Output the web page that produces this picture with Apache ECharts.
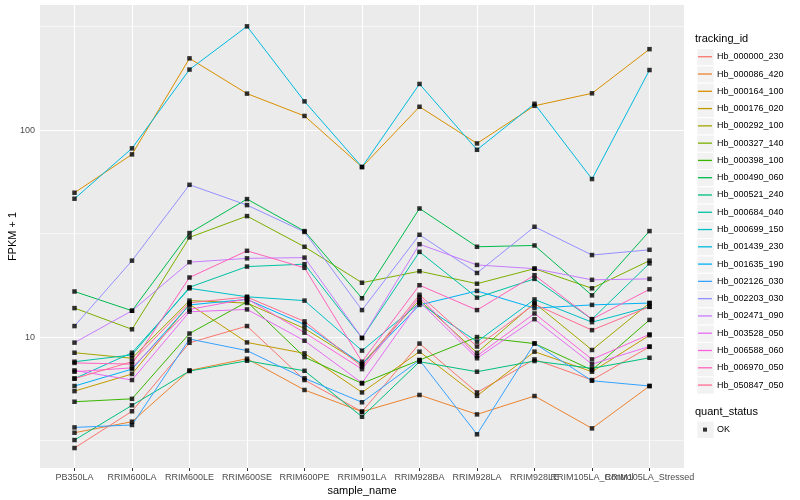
<!DOCTYPE html>
<html><head><meta charset="utf-8">
<script src="https://cdn.jsdelivr.net/npm/echarts@6/dist/echarts.min.js"></script>
<style>html,body{margin:0;padding:0;background:#fff}#c{width:800px;height:500px}</style>
</head><body><div id="c"></div>
<script>
const categories = ['PB350LA','RRIM600LA','RRIM600LE','RRIM600SE','RRIM600PE','RRIM901LA','RRIM928BA','RRIM928LA','RRIM928LE','RRIM105LA_Control','RRIM105LA_Stressed'];
const trackingIds = ['Hb_000000_230','Hb_000086_420','Hb_000164_100','Hb_000176_020','Hb_000292_100','Hb_000327_140','Hb_000398_100','Hb_000490_060','Hb_000521_240','Hb_000684_040','Hb_000699_150','Hb_001439_230','Hb_001635_190','Hb_002126_030','Hb_002203_030','Hb_002471_090','Hb_003528_050','Hb_006588_060','Hb_006970_050','Hb_050847_050'];
const colors = ['#F8766D','#EA8331','#D89000','#C09B00','#A3A500','#7CAE00','#39B600','#00BB4E','#00BF7D','#00C1A3','#00BFC4','#00BAE0','#00B0F6','#35A2FF','#9590FF','#C77CFF','#E76BF3','#FA62DB','#FF62BC','#FF6C91'];

const hb000000_230 = [2.91, 4.38, 9.38, 11.3, 6.2, 4.36, 9.3, 5.4, 7.8, 6.2, 8.97];
const hb000086_420 = [3.45, 3.90, 6.9, 7.86, 5.55, 4.36, 5.25, 4.23, 5.19, 3.62, 5.8];
const hb000164_100 = [49.8, 76.3, 222, 150, 117, 66.3, 129.6, 86.2, 131, 150.5, 246];
const hb000176_020 = [5.48, 6.63, 14.4, 9.42, 8.34, 5.4, 8.5, 5.2, 8.5, 6.8, 10.2];
const hb000292_100 = [8.4, 7.9, 15.0, 14.6, 11.0, 7.4, 15.1, 8.4, 14.6, 8.66, 14.6];
const hb000327_140 = [13.8, 10.9, 30.3, 38.4, 27.3, 18.3, 20.8, 18.1, 21.4, 17.2, 23.4];
const hb000398_100 = [4.87, 5.03, 10.4, 14.8, 8.0, 5.97, 7.74, 10.0, 9.3, 6.93, 12.1];
const hb000490_060 = [16.6, 13.4, 31.8, 46.4, 32.5, 15.4, 41.8, 27.3, 27.7, 15.9, 32.5];
const hb000521_240 = [3.18, 4.68, 6.85, 7.68, 6.87, 4.12, 7.6, 6.8, 7.66, 7.06, 7.94];
const hb000684_040 = [7.6, 8.2, 17.4, 21.9, 22.5, 9.9, 25.8, 15.5, 19.1, 12.2, 22.7];
const hb000699_150 = [6.3, 8.4, 17.2, 15.65, 15.0, 8.6, 14.6, 9.5, 15.2, 11.8, 14.0];
const hb001439_230 = [46.6, 81.6, 196, 317, 137.6, 66.3, 167, 80.3, 134, 58, 195];
const hb001635_190 = [5.8, 7.0, 14.3, 15.2, 11.5, 7.4, 14.3, 16.7, 13.8, 14.3, 14.6];
const hb002126_030 = [3.66, 3.76, 9.78, 8.6, 6.32, 4.84, 7.74, 3.39, 9.32, 6.15, 5.8];
const hb002203_030 = [11.3, 23.4, 54.4, 43.4, 32.2, 13.5, 31.2, 20.4, 34.1, 24.9, 26.4];
const hb002471_090 = [9.4, 13.4, 23.0, 24.0, 24.2, 9.9, 28.1, 22.3, 21.4, 18.9, 19.1];
const hb003528_050 = [6.9, 6.2, 13.25, 13.6, 9.6, 6.0, 14.8, 7.9, 12.2, 7.4, 9.0];
const hb006588_060 = [6.8, 7.1, 13.6, 15.3, 10.5, 7.0, 15.6, 8.1, 13.0, 7.8, 10.3];
const hb006970_050 = [7.5, 7.4, 19.4, 26.1, 21.6, 7.6, 17.8, 13.5, 19.9, 12.2, 17.0];
const hb050847_050 = [6.3, 7.6, 14.65, 15.6, 11.9, 7.2, 16.0, 9.0, 14.4, 10.8, 14.0];

const yTickValues = [10, 100];
const yMinorValues = [3.1623, 31.623, 316.23];

const seriesValues = [hb000000_230, hb000086_420, hb000164_100, hb000176_020, hb000292_100, hb000327_140, hb000398_100, hb000490_060, hb000521_240, hb000684_040, hb000699_150, hb001439_230, hb001635_190, hb002126_030, hb002203_030, hb002471_090, hb003528_050, hb006588_060, hb006970_050, hb050847_050];

const catIdx = categories.map((c, i) => i);
const FONT = 'Liberation Sans, Arial, Helvetica, sans-serif';

const gridLines = [];
catIdx.forEach(i => gridLines.push({ xAxis: i, lineStyle: { color: '#ffffff', width: 1.1, type: 'solid' } }));
yTickValues.forEach(v => gridLines.push({ yAxis: v, lineStyle: { color: '#ffffff', width: 1.1, type: 'solid' } }));
yMinorValues.forEach(v => gridLines.push({ yAxis: v, lineStyle: { color: '#ffffff', width: 0.55, type: 'solid' } }));

const series = [{
  type: 'line', name: '_grid', data: [], z: 1, silent: true, animation: false,
  markLine: { z: 1, silent: true, animation: false, symbol: ['none', 'none'], label: { show: false }, emphasis: { disabled: true }, data: gridLines }
}];
trackingIds.forEach((id, k) => {
  series.push({
    type: 'line', name: id, z: 10, animation: false, silent: true,
    data: seriesValues[k].map((v, j) => [j, v]),
    showSymbol: false, symbol: 'none',
    lineStyle: { width: 1, color: colors[k] },
    itemStyle: { color: colors[k] },
    emphasis: { disabled: true }
  });
});
const okPoints = [];
seriesValues.forEach(arr => arr.forEach((v, j) => okPoints.push([j, v])));
series.push({
  type: 'scatter', name: 'OK', z: 12, animation: false, silent: true,
  data: okPoints, symbol: 'rect', symbolSize: 4.5, itemStyle: { color: '#000000' }
});

const keyRects = [];
const keyTop = 48.1, keySize = 17.28;
trackingIds.forEach((id, k) => keyRects.push({
  type: 'rect', left: 696.4, top: keyTop + k * keySize, z: -1, silent: true,
  shape: { width: keySize, height: keySize },
  style: { fill: '#f2f2f2', stroke: '#ffffff', lineWidth: 1 }
}));
keyRects.push({
  type: 'rect', left: 696.4, top: 420.7, z: -1, silent: true,
  shape: { width: keySize, height: keySize },
  style: { fill: '#f2f2f2', stroke: '#ffffff', lineWidth: 1 }
});

const chart = echarts.init(document.getElementById('c'), null, { renderer: 'canvas' });
chart.setOption({
  animation: false,
  backgroundColor: '#ffffff',
  textStyle: { fontFamily: FONT },
  title: [
    { text: 'tracking_id', left: 695, top: 33, padding: 0, textStyle: { fontSize: 11, fontWeight: 'normal', color: '#000', fontFamily: FONT } },
    { text: 'quant_status', left: 695, top: 406, padding: 0, textStyle: { fontSize: 11, fontWeight: 'normal', color: '#000', fontFamily: FONT } }
  ],
  grid: [
    { left: 40, right: 116, top: 5, bottom: 32, show: true, backgroundColor: '#ebebeb', borderWidth: 0, containLabel: false, outerBoundsMode: 'none' },
    { left: 45.75, right: 121.75, top: 5, bottom: 32, show: false, containLabel: false, outerBoundsMode: 'none' }
  ],
  xAxis: [
    {
      type: 'value', gridIndex: 0, min: -0.6, max: 10.6,
      axisLine: { show: false }, splitLine: { show: false }, axisTick: { show: false }, axisLabel: { show: false },
      name: 'sample_name', nameLocation: 'middle', nameGap: 17, nameMoveOverlap: false,
      nameTextStyle: { fontSize: 11, color: '#000', fontFamily: FONT }
    },
    {
      type: 'category', gridIndex: 1, data: categories, boundaryGap: true,
      axisLine: { show: false }, splitLine: { show: false },
      axisTick: { show: true, alignWithLabel: true, interval: 0, length: 3, lineStyle: { color: '#333333', width: 1 } },
      axisLabel: { interval: 0, color: '#4d4d4d', fontSize: 9, margin: 5, fontFamily: FONT, hideOverlap: false }
    }
  ],
  yAxis: [
    {
      type: 'log', gridIndex: 0, logBase: 10, min: 2.33, max: 402,
      axisLine: { show: false }, splitLine: { show: false }, minorSplitLine: { show: false },
      axisTick: { show: true, customValues: yTickValues, length: 3, lineStyle: { color: '#333333', width: 1 } },
      axisLabel: { customValues: yTickValues, color: '#4d4d4d', fontSize: 9, margin: 5, fontFamily: FONT },
      name: 'FPKM + 1', nameLocation: 'middle', nameGap: 22, nameRotate: 90, nameMoveOverlap: false,
      nameTextStyle: { fontSize: 11, color: '#000', fontFamily: FONT }
    },
    { type: 'value', gridIndex: 1, show: false, min: 0, max: 1 }
  ],
  legend: [
    {
      orient: 'vertical', left: 698, top: 48.1, padding: 0, itemWidth: 14, itemHeight: 1.3, itemGap: 0,
      icon: 'rect', selectedMode: false, data: trackingIds,
      textStyle: { fontSize: 9, color: '#000', lineHeight: 17.28, fontFamily: FONT }
    },
    {
      orient: 'vertical', left: 703, top: 421, padding: 0, itemWidth: 4, itemHeight: 4, itemGap: 0,
      icon: 'rect', selectedMode: false, data: ['OK'],
      textStyle: { fontSize: 9, color: '#000', lineHeight: 17.28, padding: [0, 0, 0, 5], fontFamily: FONT }
    }
  ],
  graphic: keyRects,
  series: series
});
</script></body></html>
